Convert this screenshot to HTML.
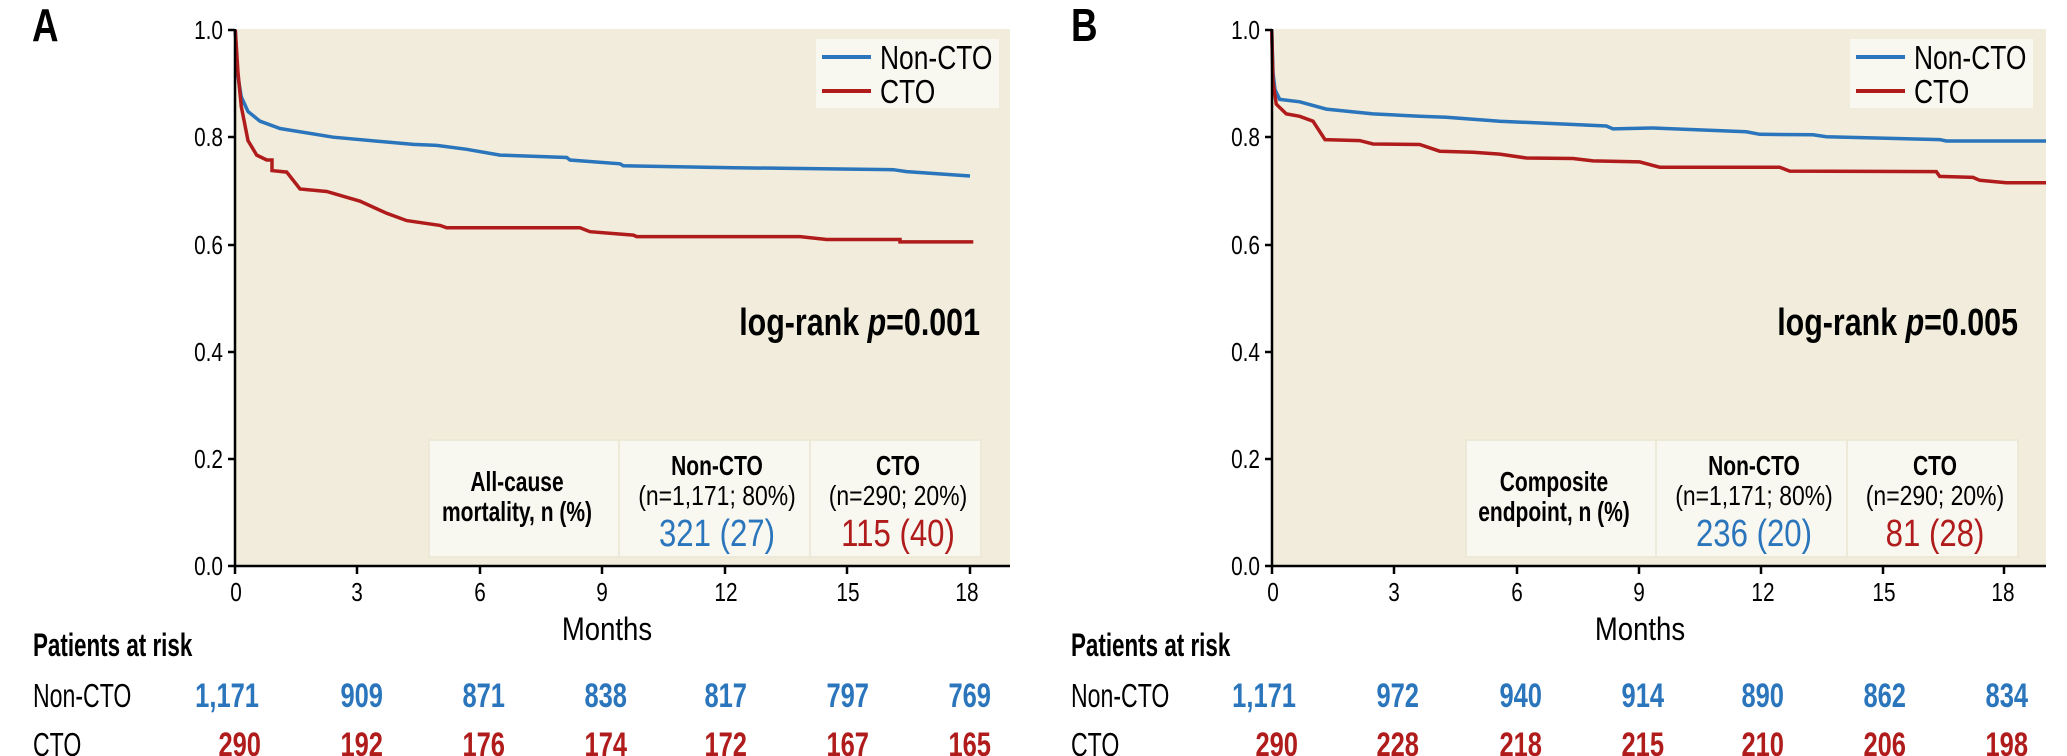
<!DOCTYPE html>
<html><head><meta charset="utf-8"><style>
html,body{margin:0;padding:0;background:#fff}
svg{display:block}
text{font-family:"Liberation Sans Narrow","Liberation Sans",sans-serif;transform-box:fill-box}
.b{font-weight:bold}
.L{transform-origin:left center}
.R{transform-origin:right center}
.C{transform-origin:center center}
.x70{transform:scaleX(.7)}
.x75{transform:scaleX(.75)}
.x80{transform:scaleX(.8)}
.x82{transform:scaleX(.82)}
.x86{transform:scaleX(.86)}
</style></head><body>
<svg width="2067" height="756" viewBox="0 0 2067 756" xmlns="http://www.w3.org/2000/svg">
<!-- Panel A -->
<rect x="235" y="29" width="775" height="537" fill="#f1ecdb"/>
<rect x="816" y="39" width="183" height="69" fill="#f8f7f0"/>
<line x1="822" y1="57" x2="871" y2="57" stroke="#2a75bb" stroke-width="4"/>
<line x1="822" y1="91" x2="871" y2="91" stroke="#b01c1c" stroke-width="4"/>
<text x="880" y="69" font-size="33" class="L x80">Non-CTO</text>
<text x="880" y="103" font-size="33" class="L x80">CTO</text>
<g transform="translate(980,335) scale(0.8,1)"><text x="0" y="0" font-size="38" font-weight="bold" text-anchor="end">log-rank <tspan font-style="italic">p</tspan>=0.001</text></g>
<rect x="429" y="440" width="552" height="117" fill="#f8f7f0" stroke="#ebe6d2" stroke-width="1.5"/>
<line x1="619" y1="440" x2="619" y2="557" stroke="#ebe6d2" stroke-width="1.5"/>
<line x1="810" y1="440" x2="810" y2="557" stroke="#ebe6d2" stroke-width="1.5"/>
<text x="517" y="491" font-size="28" class="b C x75" text-anchor="middle">All-cause</text>
<text x="517" y="521" font-size="28" class="b C x75" text-anchor="middle">mortality, n (%)</text>
<text x="717" y="475" font-size="28" class="b C x75" text-anchor="middle">Non-CTO</text>
<text x="717" y="505" font-size="28" class="C x82" text-anchor="middle">(n=1,171; 80%)</text>
<text x="717" y="546" font-size="38" fill="#2a75bb" class="C x82" text-anchor="middle">321 (27)</text>
<text x="898" y="475" font-size="28" class="b C x75" text-anchor="middle">CTO</text>
<text x="898" y="505" font-size="28" class="C x82" text-anchor="middle">(n=290; 20%)</text>
<text x="898" y="546" font-size="38" fill="#b01c1c" class="C x82" text-anchor="middle">115 (40)</text>
<polyline fill="none" stroke="#2a75bb" stroke-width="3.5" points="235.3,30 237.3,72.7 241.3,96.9 248,111.5 260,121.2 280,128.5 333.3,137.2 413.3,144.4 436.7,145.4 466.7,149.3 500,155.1 566.7,157.5 570,160 620,163.8 623.3,165.8 733.3,167.7 893.3,169.7 906.7,171.6 970,176"/>
<polyline fill="none" stroke="#b01c1c" stroke-width="3.5" points="235.3,30 238,72.7 241.3,106.6 248,140.6 256.7,155.1 266.7,160 272,160 272,170.6 286.7,172.1 300,189 326.7,191.5 360,201.2 386.7,213.3 406.7,220.6 440,225.4 446.7,227.8 580,227.8 590,231.7 633.3,235.1 636.7,236.6 800,236.6 826.7,239.5 900,239.5 900,241.9 973.3,241.9"/>
<g stroke="#000" stroke-width="2.5">
<line x1="235" y1="29" x2="235" y2="567"/>
<line x1="234" y1="566" x2="1010" y2="566"/>
<line x1="228" y1="30" x2="235" y2="30"/><line x1="228" y1="137" x2="235" y2="137"/><line x1="228" y1="245" x2="235" y2="245"/><line x1="228" y1="352" x2="235" y2="352"/><line x1="228" y1="459" x2="235" y2="459"/><line x1="228" y1="566" x2="235" y2="566"/>
<line x1="235" y1="566" x2="235" y2="574"/><line x1="357" y1="566" x2="357" y2="574"/><line x1="480" y1="566" x2="480" y2="574"/><line x1="602" y1="566" x2="602" y2="574"/><line x1="725" y1="566" x2="725" y2="574"/><line x1="847" y1="566" x2="847" y2="574"/><line x1="970" y1="566" x2="970" y2="574"/>
</g>
<g font-size="26" text-anchor="end">
<text x="223" y="39" class="R x80">1.0</text><text x="223" y="146" class="R x80">0.8</text><text x="223" y="254" class="R x80">0.6</text><text x="223" y="361" class="R x80">0.4</text><text x="223" y="468" class="R x80">0.2</text><text x="223" y="575" class="R x80">0.0</text>
</g>
<g font-size="26" text-anchor="middle">
<text x="236" y="601" class="C x80">0</text><text x="357" y="601" class="C x80">3</text><text x="480" y="601" class="C x80">6</text><text x="602" y="601" class="C x80">9</text><text x="726" y="601" class="C x80">12</text><text x="848" y="601" class="C x80">15</text><text x="967" y="601" class="C x80">18</text>
</g>
<text x="607" y="640" font-size="32" class="C x86" text-anchor="middle">Months</text>
<text x="32" y="41" font-size="46" class="b L x80">A</text>
<text x="33" y="656" font-size="32" class="b L x70">Patients at risk</text>
<text x="33" y="707" font-size="33" class="L x70">Non-CTO</text>
<text x="33" y="756" font-size="33" class="L x70">CTO</text>
<g font-size="34" text-anchor="end" fill="#2a75bb">
<text x="259" y="707" class="b R x75">1,171</text><text x="383" y="707" class="b R x75">909</text><text x="505" y="707" class="b R x75">871</text><text x="627" y="707" class="b R x75">838</text><text x="747" y="707" class="b R x75">817</text><text x="869" y="707" class="b R x75">797</text><text x="991" y="707" class="b R x75">769</text>
</g>
<g font-size="34" text-anchor="end" fill="#b01c1c">
<text x="261" y="756" class="b R x75">290</text><text x="383" y="756" class="b R x75">192</text><text x="505" y="756" class="b R x75">176</text><text x="627" y="756" class="b R x75">174</text><text x="747" y="756" class="b R x75">172</text><text x="869" y="756" class="b R x75">167</text><text x="991" y="756" class="b R x75">165</text>
</g>

<!-- Panel B -->
<rect x="1272" y="29" width="774" height="537" fill="#f1ecdb"/>
<rect x="1850" y="39" width="183" height="69" fill="#f8f7f0"/>
<line x1="1856" y1="57" x2="1905" y2="57" stroke="#2a75bb" stroke-width="4"/>
<line x1="1856" y1="91" x2="1905" y2="91" stroke="#b01c1c" stroke-width="4"/>
<text x="1914" y="69" font-size="33" class="L x80">Non-CTO</text>
<text x="1914" y="103" font-size="33" class="L x80">CTO</text>
<g transform="translate(2018,335) scale(0.8,1)"><text x="0" y="0" font-size="38" font-weight="bold" text-anchor="end">log-rank <tspan font-style="italic">p</tspan>=0.005</text></g>
<rect x="1466" y="440" width="552" height="117" fill="#f8f7f0" stroke="#ebe6d2" stroke-width="1.5"/>
<line x1="1656" y1="440" x2="1656" y2="557" stroke="#ebe6d2" stroke-width="1.5"/>
<line x1="1847" y1="440" x2="1847" y2="557" stroke="#ebe6d2" stroke-width="1.5"/>
<text x="1554" y="491" font-size="28" class="b C x75" text-anchor="middle">Composite</text>
<text x="1554" y="521" font-size="28" class="b C x75" text-anchor="middle">endpoint, n (%)</text>
<text x="1754" y="475" font-size="28" class="b C x75" text-anchor="middle">Non-CTO</text>
<text x="1754" y="505" font-size="28" class="C x82" text-anchor="middle">(n=1,171; 80%)</text>
<text x="1754" y="546" font-size="38" fill="#2a75bb" class="C x82" text-anchor="middle">236 (20)</text>
<text x="1935" y="475" font-size="28" class="b C x75" text-anchor="middle">CTO</text>
<text x="1935" y="505" font-size="28" class="C x82" text-anchor="middle">(n=290; 20%)</text>
<text x="1935" y="546" font-size="38" fill="#b01c1c" class="C x82" text-anchor="middle">81 (28)</text>
<polyline fill="none" stroke="#2a75bb" stroke-width="3.5" points="1271.7,30 1273,72.7 1275,89.7 1279.7,99.4 1299.7,101.8 1326.3,109.1 1339.7,110.5 1373,113.9 1419.7,116.3 1446.3,117.3 1499.7,121.2 1606.3,126 1613,128.9 1653,128 1746.3,131.8 1759.7,134.3 1813,134.8 1826.3,136.7 1939.7,139.6 1946.3,141 2046,141"/>
<polyline fill="none" stroke="#b01c1c" stroke-width="3.5" points="1271.7,30 1273,82.4 1276.3,104.2 1286.3,113.9 1299.7,116.3 1313,121.2 1325,139.6 1359.7,140.6 1373,144 1419.7,144.5 1439.7,151.2 1473,152.2 1499.7,154.1 1526.3,158 1573,158.5 1593,160.9 1639.7,161.9 1659.7,167.2 1779.7,167.2 1789.7,171.1 1936.3,171.6 1939.7,176.4 1973,177.4 1979.7,180.3 2006.3,182.7 2046,182.7"/>
<g stroke="#000" stroke-width="2.5">
<line x1="1272" y1="29" x2="1272" y2="567"/>
<line x1="1271" y1="566" x2="2046" y2="566"/>
<line x1="1265" y1="30" x2="1272" y2="30"/><line x1="1265" y1="137" x2="1272" y2="137"/><line x1="1265" y1="245" x2="1272" y2="245"/><line x1="1265" y1="352" x2="1272" y2="352"/><line x1="1265" y1="459" x2="1272" y2="459"/><line x1="1265" y1="566" x2="1272" y2="566"/>
<line x1="1272" y1="566" x2="1272" y2="574"/><line x1="1394" y1="566" x2="1394" y2="574"/><line x1="1517" y1="566" x2="1517" y2="574"/><line x1="1639" y1="566" x2="1639" y2="574"/><line x1="1761" y1="566" x2="1761" y2="574"/><line x1="1883" y1="566" x2="1883" y2="574"/><line x1="2004" y1="566" x2="2004" y2="574"/>
</g>
<g font-size="26" text-anchor="end">
<text x="1260" y="39" class="R x80">1.0</text><text x="1260" y="146" class="R x80">0.8</text><text x="1260" y="254" class="R x80">0.6</text><text x="1260" y="361" class="R x80">0.4</text><text x="1260" y="468" class="R x80">0.2</text><text x="1260" y="575" class="R x80">0.0</text>
</g>
<g font-size="26" text-anchor="middle">
<text x="1273" y="601" class="C x80">0</text><text x="1394" y="601" class="C x80">3</text><text x="1517" y="601" class="C x80">6</text><text x="1639" y="601" class="C x80">9</text><text x="1763" y="601" class="C x80">12</text><text x="1884" y="601" class="C x80">15</text><text x="2003" y="601" class="C x80">18</text>
</g>
<text x="1640" y="640" font-size="32" class="C x86" text-anchor="middle">Months</text>
<text x="1071" y="41" font-size="46" class="b L x80">B</text>
<text x="1071" y="656" font-size="32" class="b L x70">Patients at risk</text>
<text x="1071" y="707" font-size="33" class="L x70">Non-CTO</text>
<text x="1071" y="756" font-size="33" class="L x70">CTO</text>
<g font-size="34" text-anchor="end" fill="#2a75bb">
<text x="1296" y="707" class="b R x75">1,171</text><text x="1419" y="707" class="b R x75">972</text><text x="1542" y="707" class="b R x75">940</text><text x="1664" y="707" class="b R x75">914</text><text x="1784" y="707" class="b R x75">890</text><text x="1906" y="707" class="b R x75">862</text><text x="2028" y="707" class="b R x75">834</text>
</g>
<g font-size="34" text-anchor="end" fill="#b01c1c">
<text x="1298" y="756" class="b R x75">290</text><text x="1419" y="756" class="b R x75">228</text><text x="1542" y="756" class="b R x75">218</text><text x="1664" y="756" class="b R x75">215</text><text x="1784" y="756" class="b R x75">210</text><text x="1906" y="756" class="b R x75">206</text><text x="2028" y="756" class="b R x75">198</text>
</g>
</svg>
</body></html>
